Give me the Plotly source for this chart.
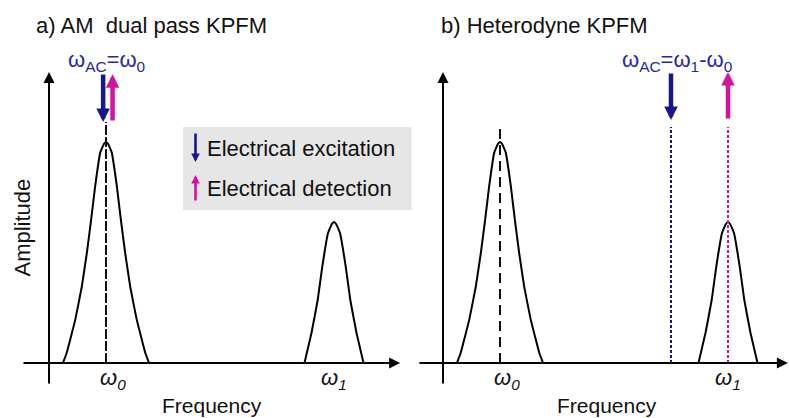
import plotly.graph_objects as go

# ---------------- data ----------------
omega0 = 1.0          # resonance frequency w0 (arb. units)
omega1 = 5.0          # resonance frequency w1
omega_ac = 4.0        # heterodyne excitation w_AC = w1 - w0

# peak profile around w0: offset from centre and amplitude
peak0_offset = [-0.755, -0.69, -0.54, -0.425, -0.335, -0.26, -0.19, -0.10, -0.04, 0.0,
                0.04, 0.10, 0.19, 0.26, 0.335, 0.425, 0.54, 0.69, 0.755]
peak0_amp = [0.0, 0.045, 0.195, 0.345, 0.50, 0.65, 0.80, 0.953, 0.99, 1.0,
             0.99, 0.953, 0.80, 0.65, 0.50, 0.345, 0.195, 0.045, 0.0]

# peak profile around w1
peak1_offset = [-0.518, -0.395, -0.286, -0.205, -0.105, -0.04, 0.0,
                0.04, 0.105, 0.205, 0.286, 0.395, 0.518]
peak1_amp = [0.0, 0.136, 0.285, 0.437, 0.588, 0.628, 0.638,
             0.628, 0.588, 0.437, 0.285, 0.136, 0.0]

marker_top = 1.09     # top of the vertical marker lines
axis_x_max = [6.16, 6.05]
axis_y_max = 1.317

# ---------------- styling ----------------
FONT = "Liberation Sans, Arial, sans-serif"
BLUE = "#18188c"
BLUE_TXT = "#2828a4"
MAG = "#d2139e"
W, H = 789, 418


def P(x, y):
    return x / W, 1 - y / H


fig = go.Figure()

for i, xa in enumerate(["x", "x2"]):
    ya = "y"
    for c, off, amp in [(omega0, peak0_offset, peak0_amp), (omega1, peak1_offset, peak1_amp)]:
        fig.add_trace(go.Scatter(x=[c + o for o in off], y=amp, mode="lines",
                                 line=dict(color="black", width=2, shape="spline", smoothing=0.25),
                                 xaxis=xa, yaxis=ya, showlegend=False, hoverinfo="skip"))

# panel a: overlapping markers at w0
fig.add_trace(go.Scatter(x=[omega0, omega0], y=[0, marker_top], mode="lines",
                         line=dict(color=BLUE, width=2, dash="2px,2px"), showlegend=False, hoverinfo="skip"))
fig.add_trace(go.Scatter(x=[omega0, omega0], y=[0, marker_top], mode="lines",
                         line=dict(color=MAG, width=2, dash="1px,5px"), showlegend=False, hoverinfo="skip"))
fig.add_trace(go.Scatter(x=[omega0, omega0], y=[0, marker_top], mode="lines",
                         line=dict(color="#111111", width=2, dash="9px,3px"), showlegend=False, hoverinfo="skip"))

# panel b: black dashed at w0, blue dotted at w_AC, magenta dotted at w1
fig.add_trace(go.Scatter(x=[omega0, omega0], y=[0, marker_top - 0.018], mode="lines", xaxis="x2",
                         line=dict(color="#111111", width=2, dash="10px,6px"), showlegend=False, hoverinfo="skip"))
fig.add_trace(go.Scatter(x=[omega_ac, omega_ac], y=[0, marker_top - 0.022], mode="lines", xaxis="x2",
                         line=dict(color=BLUE, width=2, dash="3px,2px"), showlegend=False, hoverinfo="skip"))
fig.add_trace(go.Scatter(x=[omega1, omega1], y=[0, marker_top - 0.022], mode="lines", xaxis="x2",
                         line=dict(color=MAG, width=2, dash="3px,2px"), showlegend=False, hoverinfo="skip"))

ann = []
# axes with arrows
for i, (xr, x0) in enumerate([("x", -0.474), ("x2", -0.44)]):
    ann.append(dict(x=axis_x_max[i], y=0, ax=x0, ay=0, xref=xr, yref="y", axref=xr, ayref="y",
                    showarrow=True, arrowhead=2, arrowsize=1.1, arrowwidth=2, arrowcolor="black", text="",
                    standoff=0))
    ann.append(dict(x=0, y=axis_y_max, ax=0, ay=-0.1, xref=xr, yref="y", axref=xr, ayref="y",
                    showarrow=True, arrowhead=2, arrowsize=1.1, arrowwidth=2, arrowcolor="black", text="",
                    standoff=0))

# coloured arrows, panel a
ann.append(dict(x=omega0 - 0.05, y=marker_top, ax=omega0 - 0.05, ay=axis_y_max - 0.005,
                xref="x", yref="y", axref="x", ayref="y", showarrow=True, arrowhead=2,
                arrowsize=0.6, arrowwidth=4.5, arrowcolor=BLUE, text=""))
ann.append(dict(x=omega0 + 0.115, y=axis_y_max - 0.01, ax=omega0 + 0.115, ay=marker_top,
                xref="x", yref="y", axref="x", ayref="y", showarrow=True, arrowhead=2,
                arrowsize=0.6, arrowwidth=4.5, arrowcolor=MAG, text=""))
# coloured arrows, panel b
ann.append(dict(x=omega_ac, y=marker_top + 0.01, ax=omega_ac, ay=axis_y_max,
                xref="x2", yref="y", axref="x2", ayref="y", showarrow=True, arrowhead=2,
                arrowsize=0.6, arrowwidth=4.5, arrowcolor=BLUE, text=""))
ann.append(dict(x=omega1, y=axis_y_max, ax=omega1, ay=marker_top + 0.01,
                xref="x2", yref="y", axref="x2", ayref="y", showarrow=True, arrowhead=2,
                arrowsize=0.6, arrowwidth=4.5, arrowcolor=MAG, text=""))

# legend arrows
ann.append(dict(x=P(195.5, 162)[0], y=P(195.5, 162)[1], ax=0, ay=-30, xref="paper", yref="paper",
                showarrow=True, arrowhead=2, arrowsize=0.65, arrowwidth=2.6, arrowcolor=BLUE, text=""))
ann.append(dict(x=P(195.5, 175)[0], y=P(195.5, 175)[1], ax=0, ay=27, xref="paper", yref="paper",
                showarrow=True, arrowhead=2, arrowsize=0.65, arrowwidth=2.6, arrowcolor=MAG, text=""))


def text(s, x, y, size=22, color="#111111", xanchor="left", angle=0):
    px, py = P(x, y)
    ann.append(dict(text=s, x=px, y=py, xref="paper", yref="paper", showarrow=False,
                    xanchor=xanchor, yanchor="middle", textangle=angle,
                    font=dict(family=FONT, size=size, color=color)))


text("a) AM\u00a0 dual pass KPFM", 34, 26)
text("b) Heterodyne KPFM", 439, 26)
text("ω<sub>AC</sub>=ω<sub>0</sub>", 106, 61, color=BLUE_TXT, xanchor="center")
text("ω<sub>AC</sub>=ω<sub>1</sub>-ω<sub>0</sub>", 677, 61, color=BLUE_TXT, xanchor="center")
text("Electrical excitation", 205, 148)
text("Electrical detection", 205, 188)
text("Amplitude", 22.5, 228, angle=-90, xanchor="center")
text("Frequency", 212, 405, size=21, xanchor="center")
text("Frequency", 607, 405, size=21, xanchor="center")

for xr in ["x", "x2"]:
    for c, shift in [(omega0, 7), (omega1, 0)]:
        ann.append(dict(text="<i>ω<sub>%s</sub></i>" % ("0" if c == omega0 else "1"), x=c, y=P(0, 379)[1],
                        xref=xr, yref="paper", showarrow=False, xanchor="center", yanchor="middle",
                        xshift=shift, font=dict(family=FONT, size=22, color="#111111")))

shapes = [dict(type="rect", xref="paper", yref="paper",
               x0=P(183, 0)[0], x1=P(411.5, 0)[0], y0=P(0, 210)[1], y1=P(0, 127)[1],
               fillcolor="#e6e6e6", line=dict(width=0), layer="below")]

UNIT = 57.0
dom_split = 410.0
fig.update_layout(
    width=W, height=H, margin=dict(l=0, r=0, t=0, b=0),
    paper_bgcolor="white", plot_bgcolor="rgba(0,0,0,0)",
    xaxis=dict(domain=[0, dom_split / W], range=[-49 / UNIT, (dom_split - 49) / UNIT], visible=False),
    xaxis2=dict(domain=[dom_split / W, 1], range=[(dom_split - 443) / UNIT, (W - 443) / UNIT], visible=False),
    yaxis=dict(domain=[0, 1], range=[-55 / 221, (H - 55) / 221], visible=False),
    annotations=ann, shapes=shapes,
)

fig.write_html("out.html", config={"displayModeBar": False},
               post_script="document.body.style.margin='0px';document.body.style.overflow='hidden';")
